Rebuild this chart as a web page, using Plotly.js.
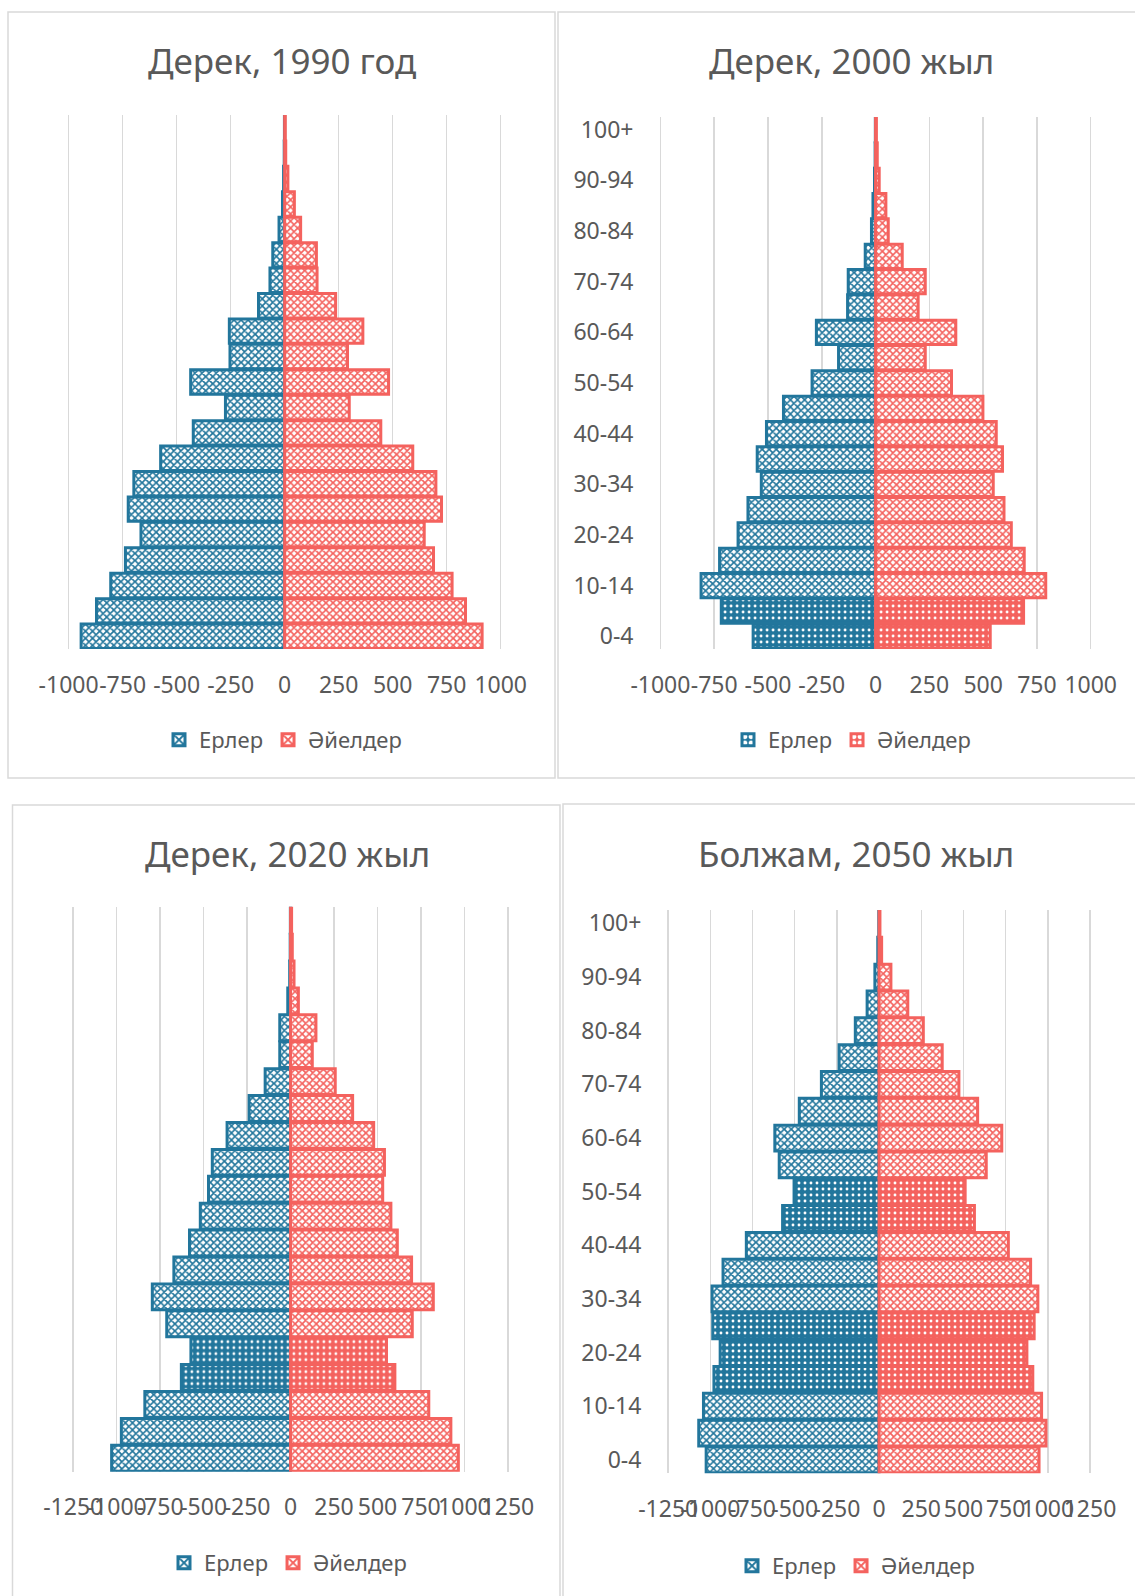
<!DOCTYPE html>
<html>
<head>
<meta charset="utf-8">
<script src="https://cdn.plot.ly/plotly-3.0.1.min.js"></script>
<style>
  html, body { margin: 0; padding: 0; background: #ffffff; }
  #chart { width: 1135px; height: 1596px; }
</style>
</head>
<body>
<div id="chart"></div>
<script>
// ---------- DATA ----------
const ageGroups = ["0-4","5-9","10-14","15-19","20-24","25-29","30-34","35-39","40-44","45-49",
                   "50-54","55-59","60-64","65-69","70-74","75-79","80-84","85-89","90-94","95-99","100+"];
const ageTickLabels = ["0-4","10-14","20-24","30-34","40-44","50-54","60-64","70-74","80-84","90-94","100+"];

const seriesNames = ["Ерлер", "Әйелдер"];

const titles = ["Дерек, 1990 год", "Дерек, 2000 жыл", "Дерек, 2020 жыл", "Болжам, 2050 жыл"];

const male1990   = [942, 871, 805, 737, 665, 724, 698, 574, 423, 274, 435, 253, 256, 121, 68, 55, 26, 10, 5, 2, 1];
const female1990 = [914, 837, 775, 689, 646, 726, 700, 593, 445, 299, 481, 291, 362, 236, 150, 147, 74, 45, 15, 5, 3];

const male2000   = [569, 717, 811, 725, 639, 593, 531, 550, 507, 428, 295, 172, 275, 130, 127, 48, 19, 12, 5, 2, 1];
const female2000 = [533, 688, 791, 691, 631, 597, 547, 590, 561, 499, 353, 231, 373, 198, 231, 124, 59, 48, 17, 8, 4];

const male2020   = [1029, 973, 838, 628, 573, 712, 795, 671, 581, 519, 472, 450, 365, 238, 146, 62, 62, 16, 5, 2, 1];
const female2020 = [965, 922, 795, 600, 552, 700, 821, 696, 614, 577, 530, 540, 478, 357, 257, 125, 146, 45, 20, 10, 6];

const male2050   = [1025, 1069, 1041, 979, 942, 986, 990, 925, 787, 572, 504, 592, 618, 473, 342, 237, 141, 71, 25, 8, 2];
const female2050 = [948, 989, 963, 911, 876, 919, 941, 898, 766, 565, 510, 635, 727, 584, 473, 374, 262, 170, 70, 15, 5];

// age groups drawn with the denser (dotted) fill
const dense1990 = [];
const dense2000 = ["0-4", "5-9"];
const dense2020 = ["15-19", "20-24"];
const dense2050 = ["15-19", "20-24", "25-29", "45-49", "50-54"];

const ticks1000 = [-1000, -750, -500, -250, 0, 250, 500, 750, 1000];
const tickText1000 = ["-1000", "-750", "-500", "-250", "0", "250", "500", "750", "1000"];
const ticks1250 = [-1250, -1000, -750, -500, -250, 0, 250, 500, 750, 1000, 1250];
const tickText1250 = ["-1250", "-1000", "-750", "-500", "-250", "0", "250", "500", "750", "1000", "1250"];

// ---------- STYLE / LAYOUT ----------
const W = 1135, H = 1596;
const fx = v => v / W;
const fy = v => 1 - v / H;
const BLUE = "#22769c";
const RED = "#f4625e";
const TXT = "#595959";
const FONT = "Noto Sans, Open Sans, sans-serif";

// xg: pixel position of the outermost gridlines (at -max and +max)
const panels = [
  { sfx: "",  title: titles[0], male: male1990, female: female1990, dense: dense1990,
    xg: [68.6, 500.7], yd: [115, 649], max: 1000, tv: ticks1000, tt: tickText1000,
    showY: false, tpos: [282, 60], lpos: [283, 740] },
  { sfx: "2", title: titles[1], male: male2000, female: female2000, dense: dense2000,
    xg: [660.4, 1090.7], yd: [117, 649], max: 1000, tv: ticks1000, tt: tickText1000,
    showY: true, tpos: [851, 60], lpos: [852, 740] },
  { sfx: "3", title: titles[2], male: male2020, female: female2020, dense: dense2020,
    xg: [73.2, 507.9], yd: [906.7, 1471.7], max: 1250, tv: ticks1250, tt: tickText1250,
    showY: false, tpos: [287, 853], lpos: [288, 1563] },
  { sfx: "4", title: titles[3], male: male2050, female: female2050, dense: dense2050,
    xg: [668.2, 1090], yd: [910, 1473.3], max: 1250, tv: ticks1250, tt: tickText1250,
    showY: true, tpos: [856, 853], lpos: [856, 1566] }
];

function pattern(dense, color) {
  const isD = a => dense.includes(a);
  return {
    fillmode: "replace",
    shape: ageGroups.map(a => isD(a) ? "." : "x"),
    fgcolor: ageGroups.map(a => isD(a) ? "#ffffff" : color),
    bgcolor: ageGroups.map(a => isD(a) ? color : "#ffffff"),
    size: ageGroups.map(a => isD(a) ? 6 : 5),
    solidity: ageGroups.map(a => isD(a) ? 0.18 : 0.55)
  };
}

const data = [];
const layout = {
  width: W, height: H,
  margin: { l: 0, r: 0, t: 0, b: 0 },
  paper_bgcolor: "#ffffff", plot_bgcolor: "#ffffff",
  barmode: "relative", bargap: 0.04,
  font: { family: FONT, color: TXT, size: 23 },
  annotations: [], shapes: []
};

panels.forEach((p) => {
  const xa = "x" + p.sfx, ya = "y" + p.sfx;
  const lg = "legend" + p.sfx;
  // widen range slightly so the edge gridlines get drawn
  const pad = p.max * 0.02;
  const pxPerUnit = (p.xg[1] - p.xg[0]) / (2 * p.max);
  const xd = [p.xg[0] - pad * pxPerUnit, p.xg[1] + pad * pxPerUnit];
  data.push({
    type: "bar", orientation: "h", name: seriesNames[0],
    y: ageGroups, x: p.male.map(v => -v),
    xaxis: xa, yaxis: ya, legend: lg,
    marker: { color: BLUE, line: { color: BLUE, width: 3 }, pattern: pattern(p.dense, BLUE) },
    hoverinfo: "skip"
  });
  data.push({
    type: "bar", orientation: "h", name: seriesNames[1],
    y: ageGroups, x: p.female,
    xaxis: xa, yaxis: ya, legend: lg,
    marker: { color: RED, line: { color: RED, width: 3 }, pattern: pattern(p.dense, RED) },
    hoverinfo: "skip"
  });
  layout["xaxis" + p.sfx] = {
    domain: [fx(xd[0]), fx(xd[1])], anchor: ya,
    range: [-p.max - pad, p.max + pad], fixedrange: true,
    tickmode: "array", tickvals: p.tv, ticktext: p.tt, tickangle: 0,
    showgrid: true, gridcolor: "#d9d9d9", gridwidth: 1.5,
    zeroline: true, zerolinecolor: "#d9d9d9", zerolinewidth: 1.5,
    showline: false, ticks: "outside", ticklen: 15, tickcolor: "rgba(0,0,0,0)",
    tickfont: { family: FONT, color: TXT, size: 23 }
  };
  layout["yaxis" + p.sfx] = {
    domain: [fy(p.yd[1]), fy(p.yd[0])], anchor: xa,
    type: "category", categoryorder: "array", categoryarray: ageGroups,
    fixedrange: true, showgrid: false, zeroline: false, showline: false,
    showticklabels: p.showY, tickmode: "array", tickvals: ageTickLabels, tickangle: 0,
    ticks: p.showY ? "outside" : "", ticklen: 17, tickcolor: "rgba(0,0,0,0)",
    tickfont: { family: FONT, color: TXT, size: 23 }
  };
  layout[lg] = {
    orientation: "h", x: fx(p.lpos[0]), y: fy(p.lpos[1]),
    xanchor: "center", yanchor: "middle",
    font: { family: FONT, color: TXT, size: 22 },
    bgcolor: "rgba(0,0,0,0)", itemwidth: 30, tracegroupgap: 0
  };
  layout.annotations.push({
    xref: "paper", yref: "paper", x: fx(p.tpos[0]), y: fy(p.tpos[1]),
    xanchor: "center", yanchor: "middle", showarrow: false,
    text: p.title, font: { family: FONT, color: TXT, size: 35 }
  });
});

// chart frames
const frames = [[8, 12, 555, 778], [558, 12, 1140, 778], [12.5, 805, 560, 1600], [563, 804, 1140, 1600]];
frames.forEach(f => {
  layout.shapes.push({
    type: "rect", xref: "paper", yref: "paper", layer: "below",
    x0: fx(f[0]), x1: fx(f[2]), y0: fy(f[3]), y1: fy(f[1]),
    line: { color: "#d9d9d9", width: 1.5 }, fillcolor: "rgba(0,0,0,0)"
  });
});

Plotly.newPlot("chart", data, layout, { displayModeBar: false, staticPlot: true });
</script>
</body>
</html>
